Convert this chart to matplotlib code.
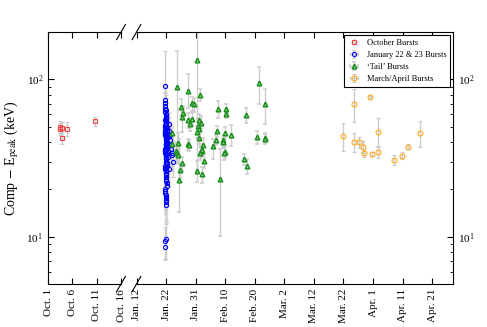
import numpy as np
import matplotlib
matplotlib.use("Agg")
import matplotlib.pyplot as plt

plt.rcParams['font.family'] = ['Liberation Serif', 'DejaVu Serif']
plt.rcParams['mathtext.fontset'] = 'stix'

# October bursts (days since Oct. 1)
oct_day = [2.4, 2.4, 2.9, 2.8, 4.0, 9.6]
oct_ep = [50.1, 48.2, 49.4, 42.5, 48.4, 54.5]
oct_lo = [4.5, 4.2, 4.4, 3.8, 4.7, 3.9]
oct_hi = [4.6, 4.4, 4.5, 4.0, 5.2, 3.5]

# January 22 & 23 bursts (days since Jan. 12)
jan_day = [9.55, 9.62, 9.70, 9.75, 9.80, 9.85, 9.90, 9.95, 10.00, 10.05, 10.10, 10.15,
           9.58, 9.66, 9.72, 9.78, 9.83, 9.88, 9.93, 9.98, 10.03, 10.08, 10.13, 10.18,
           9.60, 9.68, 9.74, 9.79, 9.84, 9.89, 9.94, 9.99, 10.04, 10.09, 10.20, 10.25,
           9.63, 9.71, 9.76, 9.81, 9.86, 9.91, 9.96, 10.01, 10.06, 10.11, 10.30, 10.35,
           9.65, 9.73, 9.77, 9.82, 9.87, 9.92, 9.97, 10.02, 10.07, 10.40, 10.50, 10.60,
           9.69, 9.74, 9.80, 9.85, 9.90, 9.95, 10.00, 10.12, 10.22, 10.45, 10.70, 10.80,
           11.10, 11.30, 11.60, 11.90, 12.20, 10.90, 11.00, 11.40, 11.75, 12.05, 9.70, 9.85,
           9.75, 9.80, 9.90, 9.95, 10.00, 10.10, 9.65, 9.72, 9.88, 9.92, 10.15, 10.05]
jan_ep = [74, 71, 68, 65, 62, 60, 58, 56, 54, 52, 50, 49,
          47, 46, 45, 44, 43, 42, 41, 40, 39, 38.5, 38, 37,
          36, 35.5, 35, 34, 33.5, 33, 32, 31.5, 31, 30, 29.5, 29,
          28, 27.5, 27, 26.5, 26, 25, 24.5, 24, 23, 22.5, 22, 21,
          20, 19.5, 19, 18.5, 18, 17.5, 17, 16.5, 16, 48, 45, 43,
          55, 50, 46, 42, 39, 36, 33, 30, 28, 40, 35, 32,
          52, 44, 38, 34, 30, 47, 27, 41, 36, 33, 91, 9.7,
          9.4, 8.6, 64, 59, 57, 53, 51, 48, 44, 37, 34, 26]
jan_err = [18, 20, 15, 17, 14, 16, 13, 15, 12, 14, 11, 13,
           11, 12, 10, 12, 9, 11, 10, 9, 10, 8, 9, 8,
           9, 8, 7, 9, 8, 7, 8, 7, 6, 8, 7, 6,
           7, 6, 7, 6, 5, 6, 6, 5, 6, 5, 5, 5,
           5, 4, 5, 4, 4, 5, 4, 4, 4, 10, 9, 9,
           12, 11, 10, 9, 8, 8, 7, 7, 6, 8, 7, 7,
           10, 9, 8, 7, 6, 10, 6, 9, 8, 7, 60, 2.5,
           2.2, 1.5, 15, 13, 12, 11, 10, 10, 9, 8, 7, 6]

# 'Tail' bursts (days since Jan. 12)
tail_day = [13.8, 20.5, 17.5, 21.5, 14.9, 15.8, 15.5, 18.9, 19.5, 17.3, 18.8, 18.2,
            21.2, 21.8, 20.9, 21.0, 20.5, 21.2, 12.1, 14.1, 12.1, 17.5, 17.8, 13.2,
            13.6, 13.9, 15.5, 14.7, 14.5, 22.6, 21.8, 21.5, 22.2, 22.9, 20.5, 22.2,
            27.5, 30.1, 30.1, 27.2, 29.8, 31.8, 26.8, 25.7, 29.1, 29.3, 30.0, 29.7,
            28.1, 37.1, 41.4, 43.5, 40.6, 43.5, 43.6, 36.2, 37.3]
tail_ep = [89.4, 132, 84.8, 79.5, 67.1, 61.5, 58.0, 70.4, 69.4, 55.2, 56.4, 51.8,
           55.0, 53.1, 50.6, 48.2, 46.6, 42.6, 45.4, 39.3, 38.7, 38.7, 38.2, 34.8,
           33.9, 33.0, 29.2, 26.6, 22.9, 38.2, 34.8, 33.9, 35.6, 30.3, 26.2, 24.9,
           64.5, 65.2, 60.6, 46.8, 45.9, 44.2, 41.2, 37.8, 41.0, 39.7, 34.6, 33.9,
           23.2, 59.4, 94.3, 69.7, 43.1, 42.6, 42.0, 31.1, 28.0]
tail_lo = [49.6, 106, 19, 7, 9, 6, 12, 7, 7, 6, 5, 5,
           5, 5, 5, 4, 4, 4, 5, 6, 4, 3, 3, 4,
           4, 4, 3, 3, 8.5, 4, 3, 3, 3, 3, 4, 3,
           8, 5, 4, 4, 4, 6.6, 3, 6.7, 3, 3, 3, 3,
           13.1, 6.3, 25, 17.9, 4, 3, 3, 2.5, 3]
tail_hi = [61.6, 68, 23, 8, 8, 6, 6.5, 7, 7, 6, 5, 5,
           5, 5, 5, 4, 4, 4, 5, 6, 4, 3, 3, 4,
           4, 4, 3, 3, 18.8, 4, 3, 3, 3, 3, 4, 3,
           8, 5, 4, 4, 4, 7, 3, 4, 3, 3, 3, 3,
           12.8, 6.7, 26, 17.6, 4, 3, 3, 2.5, 3]

# March/April bursts (days since Jan. 12)
ma_day = [73.5, 79.0, 69.7, 73.5, 75.4, 76.6, 77.1, 79.6, 81.6, 81.5, 87.2, 89.8, 91.8, 95.8]
ma_ep = [70.1, 77.2, 43.5, 40.0, 39.7, 37.0, 33.8, 33.4, 46.1, 34.6, 30.9, 32.8, 37.3, 45.7]
ma_lo = [16.5, 1.5, 8.2, 5.4, 3.3, 2.8, 1.5, 1.0, 8.3, 2.8, 2.4, 1.7, 1.3, 8.4]
ma_hi = [16.3, 1.5, 9.1, 5.5, 3.6, 3.4, 1.5, 1.0, 11.1, 2.7, 2.0, 1.8, 1.3, 8.8]

left_ticks = [0, 5, 10, 15]
left_labels = ['Oct. 1', 'Oct. 6', 'Oct. 11', 'Oct. 16']
right_ticks = [0, 10, 20, 30, 40, 50, 60, 70, 80, 90, 100]
right_labels = ['Jan. 12', 'Jan. 22', 'Jan. 31', 'Feb. 10', 'Feb. 20', 'Mar. 2',
                'Mar. 12', 'Mar. 22', 'Apr. 1', 'Apr. 11', 'Apr. 21']

fig = plt.figure(figsize=(4.87, 3.27), dpi=100)
ax1 = fig.add_axes([0.0986, 0.1315, 0.1499, 0.7705])
ax2 = fig.add_axes([0.2803, 0.1315, 0.6497, 0.7705])

ecol = '#cccccc'
common = dict(ls='none', ecolor=ecol, elinewidth=1, capsize=1.5, capthick=0.8,
              mfc='none', mew=0.8)

ax1.errorbar(oct_day, oct_ep, yerr=[oct_lo, oct_hi], xerr=np.zeros(len(oct_day)),
             marker='s', ms=3.2, mec='#f04848', **common)
ax2.errorbar([], [], yerr=[[], []], xerr=[], marker='s', ms=3.2, mec='#f04848',
             label='October Bursts', **common)
ax2.errorbar(jan_day, jan_ep, yerr=jan_err, xerr=np.zeros(len(jan_day)),
             marker='o', ms=3.0, mec='#0000ff', label='January 22 & 23 Bursts', **common)
ax2.errorbar(tail_day, tail_ep, yerr=[tail_lo, tail_hi], xerr=np.zeros(len(tail_day)),
             marker='^', ms=3.3, mec='#1f8f1f', label='\u2018Tail\u2019 Bursts',
             **dict(common, mew=1.1, mfc='#8fcf8f'))
ax2.errorbar(ma_day, ma_ep, yerr=[ma_lo, ma_hi], xerr=np.zeros(len(ma_day)),
             marker='o', ms=3.6, mec='#ffaa22', label='March/April Bursts', **common)

for ax in (ax1, ax2):
    ax.set_yscale('log')
    ax.set_ylim(5, 200)
    ax.tick_params(which='both', direction='in', top=True, labelsize=8)
    ax.tick_params(axis='x', labelrotation=90)
    ax.tick_params(which='major', length=4)
    ax.tick_params(which='minor', length=2.5)

ax1.set_xlim(0, 15)
ax1.set_xticks(left_ticks)
ax1.set_xticklabels(left_labels)
ax1.spines['right'].set_visible(False)
ax1.tick_params(axis='y', which='both', right=False)
ax1.set_ylabel('Comp $-$ E$_{\\rm peak}$ (keV)', fontsize=10)

ax2.set_xlim(0, 107)
ax2.set_xticks(right_ticks)
ax2.set_xticklabels(right_labels)
ax2.spines['left'].set_visible(False)
ax2.yaxis.tick_right()
ax2.tick_params(axis='y', which='both', left=False, right=True)

# break marks
d1 = 0.06
d2 = 0.0137
dy = 0.03
kw = dict(color='k', lw=0.8, clip_on=False)
for y0 in (0, 1):
    ax1.plot([1 - d1, 1 + d1], [y0 - dy, y0 + dy], transform=ax1.transAxes, **kw)
    ax2.plot([-d2, d2], [y0 - dy, y0 + dy], transform=ax2.transAxes, **kw)

leg = ax2.legend(loc='upper right', fontsize=6, fancybox=False, edgecolor='k',
                 framealpha=1, borderaxespad=0.4, handlelength=1.5)
leg.get_frame().set_linewidth(0.8)

fig.savefig('out.png', dpi=100)
